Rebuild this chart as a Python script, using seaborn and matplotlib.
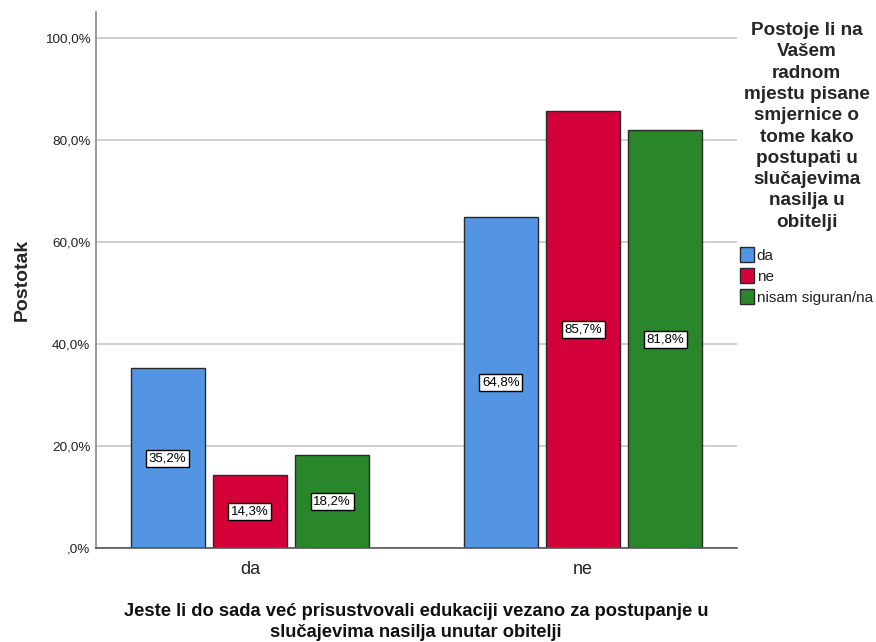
import matplotlib
matplotlib.use("Agg")
import matplotlib.pyplot as plt
import seaborn as sns
import pandas as pd

categories = ["da", "ne"]
hue_levels = ["da", "ne", "nisam siguran/na"]
val_da = [35.2, 64.8]
val_ne = [14.3, 85.7]
val_nisam = [18.2, 81.8]
colors = ["#5495E3", "#D3003A", "#2A862A"]
yticks = [0, 20, 40, 60, 80, 100]
ytick_labels = [",0%", "20,0%", "40,0%", "60,0%", "80,0%", "100,0%"]

rows = []
for h, vals in zip(hue_levels, [val_da, val_ne, val_nisam]):
    for c, v in zip(categories, vals):
        rows.append({"cat": c, "hue": h, "val": v})
df = pd.DataFrame(rows)

sns.set_style("white")
plt.rcParams['font.family'] = ['Liberation Sans', 'DejaVu Sans']

fig = plt.figure(figsize=(8.76, 6.42), dpi=100)
ax = fig.add_axes([96/876, 1-548/642, (737-96)/876, (548-12)/642])

for y in yticks:
    ax.axhline(y, color="#c8c8c8", lw=1.2, zorder=0)

sns.barplot(data=df, x="cat", y="val", hue="hue", order=categories,
            hue_order=hue_levels, palette=colors, saturation=1, width=0.74, gap=0.1,
            edgecolor="#2a2a2a", linewidth=1.0, ax=ax, legend=True, zorder=2)

for cont in ax.containers:
    for bar in cont:
        h = bar.get_height()
        ax.text(bar.get_x() + bar.get_width()/2, h/2,
                f"{h:.1f}%".replace(".", ","), ha="center", va="center",
                fontsize=9.5, color="black", zorder=5,
                bbox=dict(boxstyle="square,pad=0.2", fc="white", ec="black", lw=1))

ax.set_ylim(0, 105)
ax.set_xlim(-0.462, 1.462)
ax.set_yticks(yticks)
ax.set_yticklabels(ytick_labels, fontsize=9.7, color="#222222")
ax.tick_params(axis="x", labelsize=13, length=0, pad=9, colors="#222222")
ax.tick_params(axis="y", length=0, pad=4)

for s in ["top", "right"]:
    ax.spines[s].set_visible(False)
ax.spines["left"].set_color("#888888")
ax.spines["bottom"].set_color("#555555")
ax.spines["left"].set_linewidth(1.2)
ax.spines["bottom"].set_linewidth(1.2)

ax.set_ylabel("Postotak", fontsize=14, fontweight="bold", labelpad=10)
ax.set_xlabel("")
fig.text(416/876, 1-603/642,
         "Jeste li do sada već prisustvovali edukaciji vezano za postupanje u\nslučajevima nasilja unutar obitelji",
         ha="center", va="top", fontsize=13.2, fontweight="bold",
         linespacing=1.28, multialignment="center", color="#111111")

handles, labels = ax.get_legend_handles_labels()
ax.legend_.remove()
leg = fig.legend(handles, labels,
                 title="Postoje li na\nVašem\nradnom\nmjestu pisane\nsmjernice o\ntome kako\npostupati u\nslučajevima\nnasilja u\nobitelji",
                 loc="upper left", bbox_to_anchor=(737/876, 1-19/642),
                 frameon=False, fontsize=11, title_fontsize=13.6,
                 handlelength=0.9, handleheight=1.1, handletextpad=0.2,
                 labelspacing=0.35, borderaxespad=0, borderpad=0.2)
leg.get_title().set_fontweight("bold")
leg.get_title().set_multialignment("center")
leg.get_title().set_linespacing(1.33)
leg._legend_box.align = "center"
leg._legend_box.sep = 12
for t in leg.get_texts():
    t.set_color("#222222")

fig.savefig("out.png", dpi=100)
